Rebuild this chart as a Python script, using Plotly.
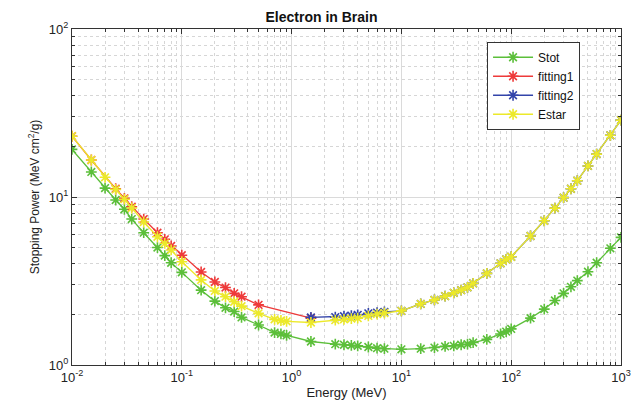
import plotly.graph_objects as go

# ---- data ----
stot_E = [0.01, 0.015, 0.02, 0.025, 0.03, 0.035, 0.045, 0.06, 0.07, 0.08, 0.1,
          0.15, 0.2, 0.25, 0.3, 0.35, 0.5, 0.7, 0.8, 0.9, 1.5, 2.5, 3, 3.5, 4,
          5, 6, 7, 10, 15, 20, 25, 30, 35, 40, 45, 60, 80, 90, 100, 150, 200,
          250, 300, 350, 400, 500, 600, 800, 1000]
stot_S = [19.2, 14.1, 11.3, 9.6, 8.45, 7.39, 6.13, 5.0, 4.48, 4.06, 3.56,
          2.79, 2.40, 2.19, 2.08, 1.92, 1.73, 1.56, 1.53, 1.50, 1.38, 1.33, 1.32, 1.31, 1.30,
          1.28, 1.26, 1.25, 1.24, 1.25, 1.27, 1.29, 1.30, 1.32, 1.33, 1.36, 1.42, 1.53, 1.58, 1.64,
          1.90, 2.15, 2.42, 2.67, 2.92, 3.18, 3.59, 4.06, 4.95, 5.75]

fit1_E = [0.01, 0.015, 0.025, 0.03, 0.035, 0.045, 0.06, 0.07, 0.08, 0.1,
          0.15, 0.2, 0.25, 0.3, 0.35, 0.5, 1.5]
fit1_S = [23.0, 16.6, 11.2, 9.82, 8.75, 7.39, 6.13, 5.60, 5.11, 4.50,
          3.58, 3.12, 2.89, 2.67, 2.55, 2.28, 1.90]

fit2_E = [1.5, 2.5, 3, 3.5, 4, 5, 6, 7, 10, 15, 20, 25, 30, 35, 40, 45, 60, 80, 90,
          100, 150, 200, 250, 300, 350, 400, 500, 600, 800, 1000]
fit2_S = [1.92, 1.93, 1.95, 1.97, 1.99, 2.03, 2.05, 2.07, 2.10, 2.31, 2.44, 2.57, 2.69,
          2.79, 2.90, 3.06, 3.51, 4.03, 4.25,
          4.41, 5.86, 7.22, 8.59, 9.91, 11.2, 12.5, 15.3, 18.0, 23.3, 28.7]

estar_E = [0.01, 0.015, 0.02, 0.025, 0.03, 0.035, 0.045, 0.06, 0.07, 0.08, 0.1,
           0.15, 0.2, 0.25, 0.3, 0.35, 0.5, 0.7, 0.8, 0.9, 1.5, 2.5, 3, 3.5, 4,
           5, 6, 7, 10, 15, 20, 25, 30, 35, 40, 45, 60, 80, 90, 100, 150, 200,
           250, 300, 350, 400, 500, 600, 800, 1000]
estar_S = [23.0, 16.6, 13.1, 11.1, 9.7, 8.6, 7.1, 5.8, 5.3, 4.84, 4.12,
           3.21, 2.76, 2.55, 2.38, 2.24, 2.03, 1.87, 1.84, 1.82, 1.79, 1.85, 1.87, 1.89, 1.90,
           1.96, 2.01, 2.04, 2.10, 2.31, 2.44, 2.57, 2.69, 2.79, 2.90, 3.06, 3.51, 4.03, 4.25, 4.41,
           5.86, 7.22, 8.59, 9.91, 11.2, 12.5, 15.3, 18.0, 23.3, 28.7]

series_names = ["Stot", "fitting1", "fitting2", "Estar"]
series_colors = ["#5cbf3a", "#ee3a3a", "#3344aa", "#ece92a"]

x_tickvals = [0.01, 0.1, 1, 10, 100, 1000]
x_ticktext = ["10<sup>-2</sup>", "10<sup>-1</sup>", "10<sup>0</sup>",
              "10<sup>1</sup>", "10<sup>2</sup>", "10<sup>3</sup>"]
y_tickvals = [1, 10, 100]
y_ticktext = ["10<sup>0</sup>", "10<sup>1</sup>", "10<sup>2</sup>"]

x_minor = [m * 10 ** k for k in range(-2, 3) for m in range(2, 10)]
y_minor = [m * 10 ** k for k in range(0, 2) for m in range(2, 10)]

fig = go.Figure()
for name, xs, ys, col in zip(series_names,
                             [stot_E, fit1_E, fit2_E, estar_E],
                             [stot_S, fit1_S, fit2_S, estar_S],
                             series_colors):
    fig.add_trace(go.Scatter(
        x=xs, y=ys, name=name, mode="lines+markers",
        line=dict(color=col, width=1.3),
        marker=dict(symbol="asterisk-open", size=9, color=col,
                    line=dict(color=col, width=1.6)),
    ))

font = "Liberation Sans, Arial, sans-serif"
axis_common = dict(
    type="log", showline=True, linecolor="#333333", linewidth=1, mirror="ticks",
    ticks="inside", ticklen=5, tickcolor="#333333",
    showgrid=True, gridcolor="#dadada", gridwidth=1,
    zeroline=False,
    tickfont=dict(family=font, size=13, color="#222222"),
)

fig.update_xaxes(
    **axis_common,
    range=[-2, 3],
    tickmode="array", tickvals=x_tickvals, ticktext=x_ticktext,
    minor=dict(tickmode="array", tickvals=x_minor, ticks="inside", ticklen=3,
               tickcolor="#333333", showgrid=True, gridcolor="#d6d6d6",
               griddash="dot", gridwidth=1),
    title=dict(text="Energy (MeV)", font=dict(family=font, size=13, color="#222222"),
               standoff=4),
)
fig.update_yaxes(
    **axis_common,
    range=[0, 2],
    tickmode="array", tickvals=y_tickvals, ticktext=y_ticktext,
    minor=dict(tickmode="array", tickvals=y_minor, ticks="inside", ticklen=3,
               tickcolor="#333333", showgrid=True, gridcolor="#d6d6d6",
               griddash="dot", gridwidth=1),
    title=dict(text="Stopping Power (MeV cm<sup>2</sup>/g)",
               font=dict(family=font, size=12, color="#222222"), standoff=6),
)

fig.update_layout(
    width=643, height=410,
    margin=dict(l=72, r=22, t=29, b=42),
    paper_bgcolor="white", plot_bgcolor="white",
    title=dict(text="<b>Electron in Brain</b>", x=0.5, xanchor="center",
               y=0.958, yanchor="middle",
               font=dict(family=font, size=14, color="#111111")),
    showlegend=True,
    legend=dict(x=0.756, y=0.962, xanchor="left", yanchor="top",
                bgcolor="white", bordercolor="#333333", borderwidth=1,
                font=dict(family=font, size=12, color="#111111"),
                itemwidth=40, tracegroupgap=0),
)

fig.write_html("out.html",
               config={"displayModeBar": False},
               post_script="document.body.style.margin='0px';document.body.style.padding='0px';")
